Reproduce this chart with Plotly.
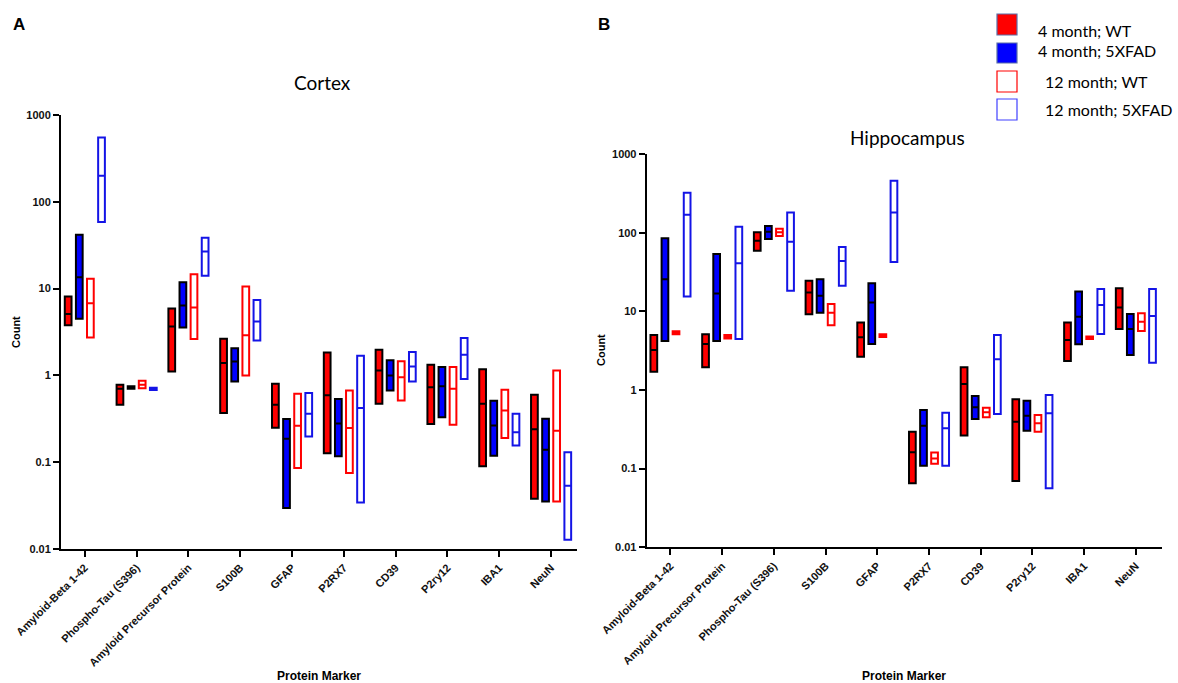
import numpy as np
import plotly.graph_objects as go

# ---------------- data ----------------
cortex_markers = ["Amyloid-Beta 1-42", "Phospho-Tau (S396)", "Amyloid Precursor Protein", "S100B",
                  "GFAP", "P2RX7", "CD39", "P2ry12", "IBA1", "NeuN"]
hippo_markers = ["Amyloid-Beta 1-42", "Amyloid Precursor Protein", "Phospho-Tau (S396)", "S100B",
                 "GFAP", "P2RX7", "CD39", "P2ry12", "IBA1", "NeuN"]

group_names = ["4 month; WT", "4 month; 5XFAD", "12 month; WT", "12 month; 5XFAD"]

# Cortex (min / median / max)
cx_wt4_min = [3.77, 0.46, 1.11, 0.37, 0.25, 0.127, 0.47, 0.275, 0.09, 0.038]
cx_wt4_med = [5.1, 0.70, 3.67, 1.39, 0.46, 0.59, 1.14, 0.73, 0.47, 0.24]
cx_wt4_max = [8.1, 0.78, 5.9, 2.64, 0.80, 1.84, 1.98, 1.33, 1.18, 0.60]

cx_fad4_min = [4.5, 0.70, 3.57, 0.85, 0.0296, 0.117, 0.67, 0.33, 0.119, 0.0353]
cx_fad4_med = [13.5, 0.725, 6.4, 1.45, 0.186, 0.28, 1.0, 0.75, 0.265, 0.139]
cx_fad4_max = [41.8, 0.75, 11.8, 2.05, 0.314, 0.534, 1.49, 1.25, 0.51, 0.317]

cx_wt12_min = [2.74, 0.71, 2.62, 1.0, 0.0856, 0.075, 0.515, 0.27, 0.19, 0.0353]
cx_wt12_med = [6.8, 0.78, 6.07, 2.9, 0.263, 0.247, 0.95, 0.70, 0.395, 0.23]
cx_wt12_max = [13.0, 0.87, 14.6, 10.6, 0.615, 0.672, 1.46, 1.25, 0.684, 1.14]

cx_fad12_min = [58.4, 0.68, 14.1, 2.53, 0.198, 0.0344, 0.853, 0.907, 0.156, 0.0128]
cx_fad12_med = [200, 0.70, 26.8, 4.19, 0.362, 0.42, 1.27, 1.73, 0.222, 0.0536]
cx_fad12_max = [552, 0.72, 38.5, 7.4, 0.626, 1.685, 1.86, 2.69, 0.362, 0.13]

# Hippocampus (min / median / max)
hc_wt4_min = [1.71, 1.94, 59, 9.16, 2.65, 0.065, 0.263, 0.0697, 2.34, 5.96]
hc_wt4_med = [3.22, 3.84, 79, 17.3, 4.67, 0.161, 1.19, 0.396, 4.32, 11.2]
hc_wt4_max = [5.0, 5.1, 101, 24.5, 7.2, 0.295, 1.94, 0.76, 7.2, 19.6]

hc_fad4_min = [4.2, 4.2, 83, 9.6, 3.84, 0.109, 0.428, 0.304, 3.8, 2.79]
hc_fad4_med = [25.5, 16.9, 103, 15.8, 12.9, 0.352, 0.602, 0.472, 8.55, 5.96]
hc_fad4_max = [84.7, 53.6, 121.5, 25.5, 22.7, 0.557, 0.84, 0.732, 17.8, 9.25]

hc_wt12_min = [5.1, 4.5, 90.7, 6.64, 4.7, 0.115, 0.45, 0.295, 4.45, 5.62]
hc_wt12_med = [5.35, 4.76, 101, 9.6, 4.9, 0.135, 0.52, 0.377, 4.63, 7.39]
hc_wt12_max = [5.6, 5.0, 112, 12.4, 5.1, 0.16, 0.596, 0.481, 4.8, 9.43]

hc_fad12_min = [15.4, 4.45, 18.3, 21.2, 42.4, 0.109, 0.495, 0.0562, 5.15, 2.22]
hc_fad12_med = [169, 40.8, 76.8, 43.6, 180, 0.326, 2.45, 0.505, 12.0, 8.73]
hc_fad12_max = [322, 119, 180, 65.8, 458, 0.515, 5.0, 0.864, 19.2, 19.2]

y_tick_vals = [0.01, 0.1, 1, 10, 100, 1000]
y_tick_text = ["0.01", "0.1", "1", "10", "100", "1000"]

# ---------------- styles ----------------
RED = "#ff0000"
BLUE = "#0000ff"
styles = [
    dict(fill=RED, line="#000000"),
    dict(fill=BLUE, line="#000000"),
    dict(fill="#ffffff", line=RED),
    dict(fill="#ffffff", line="#1414e6"),
]
offsets = [-0.322, -0.107, 0.107, 0.322]
box_w = 0.13

fig = go.Figure()

panels = [
    ("x", "y", cortex_markers, [
        (cx_wt4_min, cx_wt4_med, cx_wt4_max),
        (cx_fad4_min, cx_fad4_med, cx_fad4_max),
        (cx_wt12_min, cx_wt12_med, cx_wt12_max),
        (cx_fad12_min, cx_fad12_med, cx_fad12_max),
    ]),
    ("x2", "y2", hippo_markers, [
        (hc_wt4_min, hc_wt4_med, hc_wt4_max),
        (hc_fad4_min, hc_fad4_med, hc_fad4_max),
        (hc_wt12_min, hc_wt12_med, hc_wt12_max),
        (hc_fad12_min, hc_fad12_med, hc_fad12_max),
    ]),
]

for xa, ya, cats, groups in panels:
    pos = np.arange(len(cats))
    for gi, (mn, md, mx) in enumerate(groups):
        st = styles[gi]
        fig.add_trace(go.Box(
            x=pos + offsets[gi],
            q1=mn, median=md, q3=mx, lowerfence=mn, upperfence=mx,
            width=box_w, whiskerwidth=0,
            fillcolor=st["fill"], line=dict(color=st["line"], width=2),
            boxpoints=False, name=group_names[gi], showlegend=False,
            hoverinfo="skip", xaxis=xa, yaxis=ya,
        ))

axis_font = dict(family="Arial, Liberation Sans", size=11, color="#111111")

def xaxis_cfg(domain, cats, anchor):
    return dict(domain=domain, anchor=anchor, range=[-0.46, 9.5], automargin=False,
                tickvals=list(range(len(cats))), ticktext=["<b>%s</b>" % c for c in cats],
                tickangle=-45, ticks="outside", ticklen=6, tickwidth=2, tickcolor="black",
                showline=True, linecolor="black", linewidth=2, showgrid=False, zeroline=False,
                tickfont=axis_font)

def yaxis_cfg(domain, anchor):
    return dict(domain=domain, anchor=anchor, type="log", range=[-2, 3.0], automargin=False,
                tickvals=y_tick_vals, ticktext=["<b>%s</b>" % t for t in y_tick_text],
                ticks="outside", ticklen=6, tickwidth=2, tickcolor="black",
                showline=True, linecolor="black", linewidth=2, showgrid=False, zeroline=False,
                tickfont=axis_font)

W, H = 1178, 683
fig.update_layout(
    width=W, height=H,
    margin=dict(l=0, r=0, t=0, b=0, autoexpand=False),
    paper_bgcolor="white", plot_bgcolor="white",
    boxmode="overlay", showlegend=False,
    xaxis=xaxis_cfg([61 / W, 577 / W], cortex_markers, "y"),
    yaxis=yaxis_cfg([1 - 549 / H, 1 - 115 / H], "x"),
    xaxis2=xaxis_cfg([646.7 / W, 1161.7 / W], hippo_markers, "y2"),
    yaxis2=yaxis_cfg([1 - 547.3 / H, 1 - 154 / H], "x2"),
)

def px(x, y):
    return x / W, 1 - y / H

ann = []
def add_text(text, x, y, size, bold=False, family="Arial, Liberation Sans", angle=0, xanchor="center"):
    xx, yy = px(x, y)
    ann.append(dict(text=("<b>%s</b>" % text) if bold else text, x=xx, y=yy, xref="paper", yref="paper",
                    showarrow=False, xanchor=xanchor, yanchor="middle", textangle=angle,
                    font=dict(family=family, size=size, color="black")))

add_text("A", 19, 24, 17, bold=True)
add_text("B", 604, 24, 17, bold=True)
add_text("Cortex", 322, 83, 19, family="Lato, Open Sans")
add_text("Hippocampus", 907, 137, 19, family="Lato, Open Sans")
add_text("Count", 16, 332, 11, bold=True, angle=-90)
add_text("Count", 601, 350, 11, bold=True, angle=-90)
add_text("Protein Marker", 319, 676, 12, bold=True)
add_text("Protein Marker", 904, 676, 12, bold=True)

# legend (swatches + labels)
legend_rows = [(14, 35, 1036, 31), (43, 63, 1036, 50), (71, 92, 1043, 81), (99, 120, 1043, 109)]
legend_fill = [RED, BLUE, "#ffffff", "#ffffff"]
legend_line = ["#5a6fa8", "#5a6fa8", RED, "#4040ff"]
shapes = []
for i, (y0, y1, tx, ty) in enumerate(legend_rows):
    shapes.append(dict(type="rect", xref="paper", yref="paper",
                       x0=997 / W, x1=1017 / W, y0=1 - y1 / H, y1=1 - y0 / H,
                       fillcolor=legend_fill[i], line=dict(color=legend_line[i], width=1.2)))
    add_text(group_names[i], tx, ty, 16, family="Lato, Open Sans", xanchor="left")

fig.update_layout(annotations=ann, shapes=shapes)
fig.write_html("out.html", config={"displayModeBar": False},
               post_script="document.body.style.margin='0';document.body.style.padding='0';")
